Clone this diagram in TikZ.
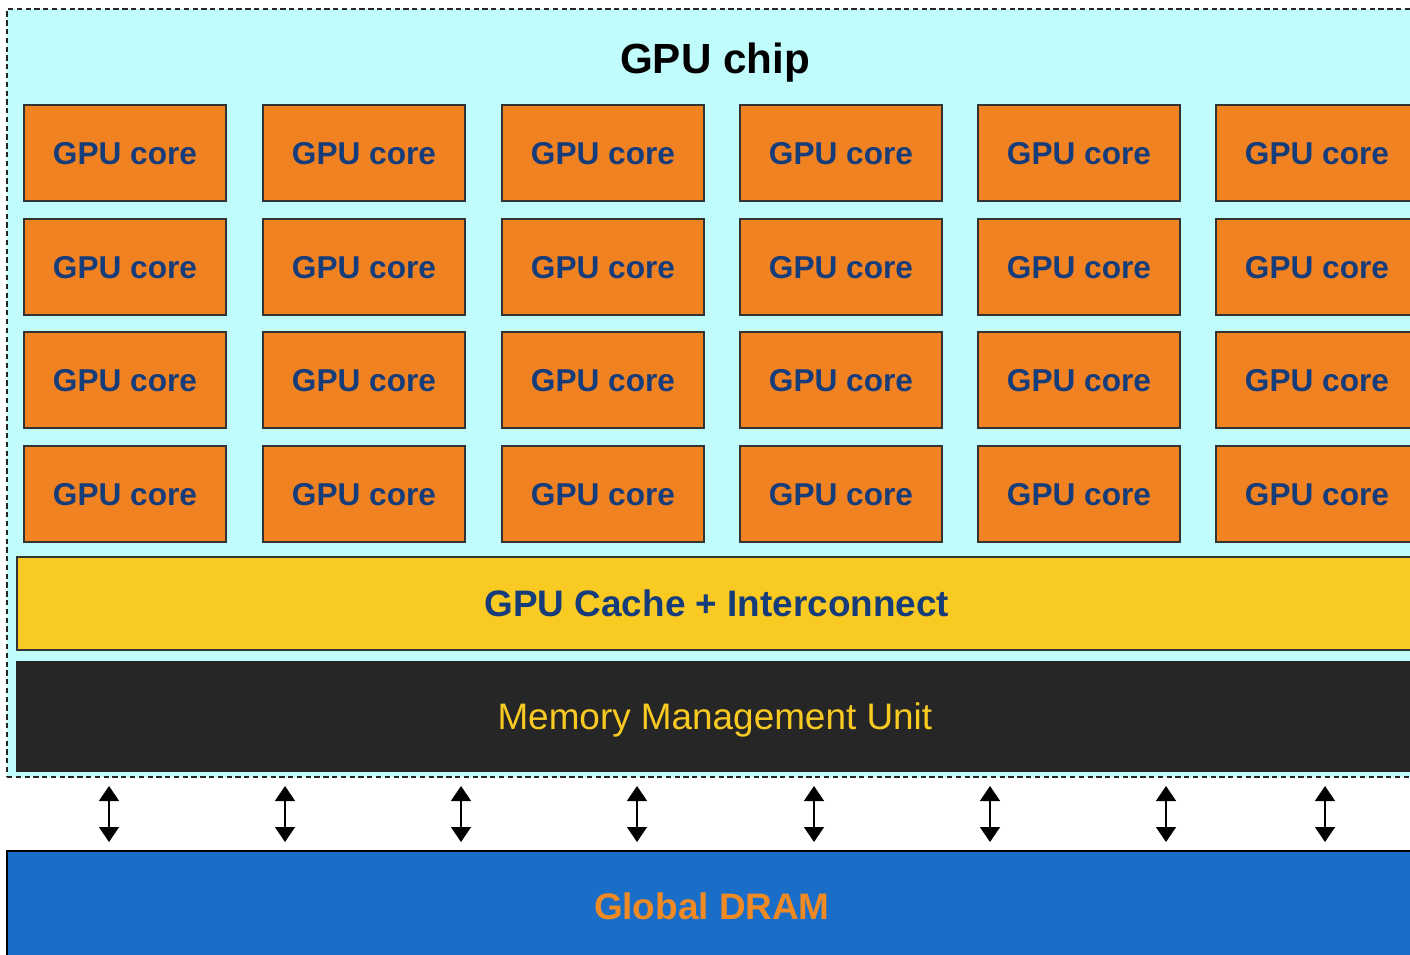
\documentclass[tikz,border=0pt]{standalone}
\usepackage{fontspec}
\setmainfont{Liberation Sans}
\usetikzlibrary{arrows.meta}
\definecolor{chipbg}{HTML}{C0FCFC}
\definecolor{coreor}{HTML}{F08222}
\definecolor{navy}{HTML}{173C7A}
\definecolor{cacheyl}{HTML}{F9CA22}
\definecolor{mmubk}{HTML}{262626}
\definecolor{dramblue}{HTML}{1B6EC8}
\definecolor{dramtxt}{HTML}{F08A24}
\begin{document}
\begin{tikzpicture}[x=0.02cm,y=-0.02cm,
  box/.style={rectangle,anchor=north west,inner sep=0pt,outer sep=0pt,text depth=0pt},
  corebox/.style={box,fill=coreor,draw=black!80,line width=0.8pt,minimum width=4.04cm,minimum height=1.92cm,
    font=\fontsize{18}{18}\selectfont\bfseries,text=navy},
  biarrow/.style={line width=0.8pt,{Triangle[width=0.4cm,length=0.3cm]}-{Triangle[width=0.4cm,length=0.3cm]}}]
\useasboundingbox (0,0) rectangle (1410,954);
\clip (0,0) rectangle (1410,954);
% chip
\node[box,fill=chipbg,draw=black!85,dashed,dash pattern=on 3pt off 2pt,line width=0.8pt,
  minimum width=28.32cm,minimum height=15.36cm] (chip) at (7,9) {};
\node[font=\fontsize{24}{24}\selectfont\bfseries,text depth=0pt] (title) at (715,58) {GPU chip};
% cores
\foreach \c/\x in {1/24,2/263,3/502,4/740,5/978,6/1216}{
  \foreach \r/\y in {1/105,2/219,3/332,4/446}{
    \node[corebox] (core\r\c) at (\x,\y) {GPU core};
  }
}
% cache
\node[box,fill=cacheyl,draw=black!80,line width=0.8pt,minimum width=28cm,minimum height=1.86cm,
  font=\fontsize{21}{21}\selectfont\bfseries,text=navy] (cache) at (17,557) {GPU Cache + Interconnect};
% MMU
\node[box,fill=mmubk,draw=black!85,line width=0.8pt,minimum width=27.92cm,minimum height=2.18cm,
  font=\fontsize{21}{21}\selectfont,text=cacheyl] (mmu) at (17,662) {Memory Management Unit};
% DRAM
\node[box,fill=dramblue,draw=black,line width=1pt,minimum width=28.2cm,minimum height=2.2cm,
  font=\fontsize{21}{21}\selectfont\bfseries,text=dramtxt] (dram) at (7,851) {Global DRAM};
% arrows
\foreach \i/\x in {1/109,2/285,3/461,4/637,5/814,6/990,7/1166,8/1325}{
  \coordinate (up\i) at (\x,786);
  \coordinate (dn\i) at (\x,842);
  \draw[biarrow] (up\i) -- (dn\i);
}
\end{tikzpicture}
\end{document}
